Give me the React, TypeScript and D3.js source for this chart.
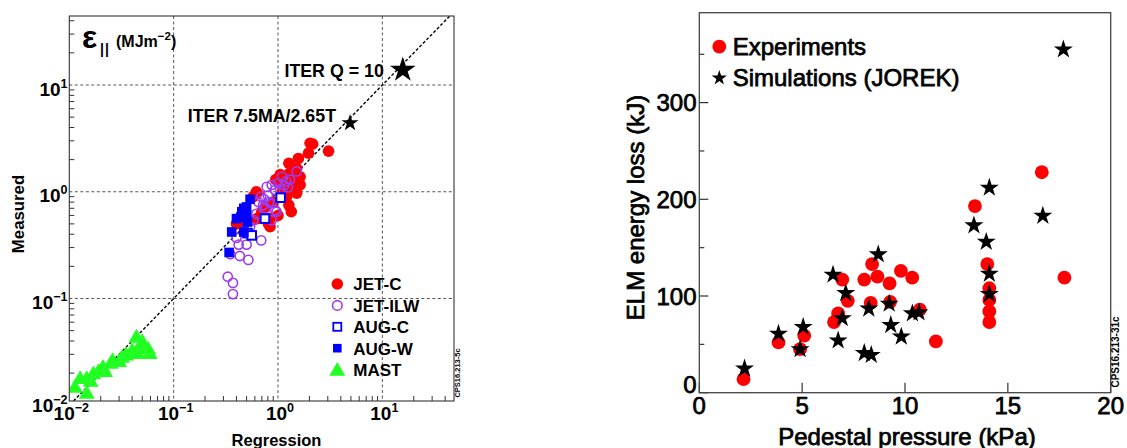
import React from 'react';
import * as d3 from 'd3';

const FONT = '"Liberation Sans", Arial, Helvetica, sans-serif';

// ---------- Left panel data (Regression, Measured) ----------
const jetC: [number, number][] = [
  [2.03, 2.85], [2.15, 2.8], [1.96, 2.3], [3.05, 2.4], [1.57, 2.05], [1.27, 1.85],
  [1.51, 1.66], [1.29, 1.49], [1.63, 1.38], [1.4, 1.28], [1.63, 1.16], [1.29, 1.08],
  [1.51, 0.97], [1.21, 0.9], [1.27, 0.75], [1.34, 0.65], [1.13, 1.2], [0.95, 1.3],
  [1.05, 1.45], [0.62, 1.0], [0.58, 0.9], [0.81, 0.5], [0.84, 0.56], [0.63, 0.56],
  [0.4, 0.5], [0.42, 0.53], [0.75, 0.72], [1.1, 1.0], [0.9, 0.8], [1.0, 0.6],
  [0.7, 0.65], [0.63, 0.97], [0.43, 0.52], [0.84, 0.47],
];
const jetILW: [number, number][] = [
  [1.51, 1.55], [1.09, 1.38], [1.2, 1.25], [1.15, 1.15], [1.05, 1.05], [1.25, 1.1],
  [0.87, 1.16], [0.78, 1.11], [0.94, 1.04], [0.69, 0.9], [0.74, 0.85], [0.8, 0.92],
  [0.82, 0.8], [0.72, 0.75], [0.86, 0.78], [0.94, 0.67], [0.87, 0.54], [0.69, 0.35],
  [0.58, 0.54], [0.54, 0.47], [0.48, 0.43], [0.4, 0.37], [0.42, 0.32], [0.5, 0.32],
  [0.35, 0.26], [0.43, 0.25], [0.52, 0.23], [0.33, 0.16], [0.37, 0.14], [0.37, 0.11],
  [0.65, 0.8], [0.76, 0.7], [1.3, 1.3], [1.0, 1.2], [0.62, 0.62], [0.97, 0.65],
];
const augC: [number, number][] = [[1.06, 0.88], [0.75, 0.56], [0.51, 0.41], [0.56, 0.39]];
const augW: [number, number][] = [
  [0.54, 0.85], [0.47, 0.7], [0.4, 0.56], [0.5, 0.61], [0.51, 0.52], [0.45, 0.65],
  [0.36, 0.42], [0.47, 0.42], [0.34, 0.27], [0.5, 0.72], [0.44, 0.58],
];
const mast: [number, number][] = [
  [0.044, 0.044], [0.057, 0.034], [0.048, 0.036], [0.04, 0.033], [0.035, 0.03],
  [0.032, 0.0285], [0.026, 0.0265], [0.025, 0.025], [0.021, 0.023], [0.019, 0.021],
  [0.017, 0.02], [0.0147, 0.018], [0.0127, 0.018], [0.0113, 0.0149], [0.0147, 0.0131],
  [0.059, 0.031], [0.05, 0.04], [0.03, 0.026], [0.016, 0.017], [0.045, 0.031], [0.022, 0.021],
];
const iterPoints = [
  { name: 'ITER Q = 10', x: 15.7, y: 14.3, big: true },
  { name: 'ITER 7.5MA/2.65T', x: 4.9, y: 4.5, big: false },
];
const leftDecades = [-2, -1, 0, 1];
const leftGrid = [0.1, 1, 10];
const legendLeft = ['JET-C', 'JET-ILW', 'AUG-C', 'AUG-W', 'MAST'];

// ---------- Right panel data (Pedestal pressure kPa, ELM energy loss kJ) ----------
const experiments: [number, number][] = [
  [2.15, 14], [3.85, 52], [4.9, 45], [5.1, 59], [6.55, 73], [6.75, 82], [6.95, 117],
  [7.22, 95], [8.02, 117], [8.4, 133], [8.33, 93], [8.66, 120], [9.25, 113], [9.28, 94],
  [9.8, 126], [10.35, 119], [10.72, 86], [11.5, 53], [13.4, 193], [14.0, 133],
  [14.1, 108], [14.1, 96], [14.1, 84], [14.1, 73], [16.65, 228], [17.75, 119],
];
const simulations: [number, number][] = [
  [2.2, 26], [3.85, 62], [4.9, 46], [5.05, 69], [6.5, 123], [6.75, 55], [7.12, 104],
  [6.95, 78], [8.02, 42], [8.36, 40], [8.24, 88], [8.7, 144], [9.23, 93], [9.31, 71],
  [9.82, 59], [10.36, 83], [10.68, 84], [13.35, 174], [13.95, 157], [14.1, 213],
  [14.1, 124], [14.1, 103], [16.7, 184], [17.7, 356],
];
const rightXTicks = [0, 5, 10, 15, 20];
const rightYMajor = [0, 100, 200, 300];
const rightYMinor = [50, 150, 250, 350];

const RED = '#ff0000';
const PURPLE = '#9b3cf2';
const BLUE = '#0000ff';
const GREEN = '#22ff22';

const txtL = { fontFamily: FONT, fill: '#000', fontWeight: 'bold' } as const;
const txtR = { fontFamily: FONT, fill: '#000', stroke: '#000', strokeWidth: 0.75 } as const;

const starPath = (r: number) => d3.symbol(d3.symbolStar, (r * r) / 0.8908130915292852)()!;
const triPath = d3.symbol(d3.symbolTriangle, 110)()!;

function Sup({ base, exp, x, y, anchor, size = 19 }: { base: string; exp: string; x: number; y: number; anchor: string; size?: number }) {
  return (
    <text x={x} y={y} textAnchor={anchor as any} fontSize={size} {...txtL}>
      {base}
      <tspan dy={-8} fontSize={size * 0.66}>{exp}</tspan>
    </text>
  );
}

export default function App() {
  // Left scales
  const xL = d3.scaleLog().domain([0.01, 48.6]).range([69.3, 454]);
  const yL = d3.scaleLog().domain([0.01096, 44.3]).range([401, 16]);
  const L = { l: 69.3, r: 454, t: 16, b: 401 };
  const minorX: number[] = [];
  const minorY: number[] = [];
  leftDecades.forEach((d) => {
    for (let m = 2; m <= 9; m++) {
      const v = m * Math.pow(10, d);
      if (v <= xL.domain()[1]) minorX.push(v);
      if (v >= yL.domain()[0] && v <= yL.domain()[1]) minorY.push(v);
    }
  });
  const expStr = (d: number) => (d < 0 ? '\u2212' + Math.abs(d) : String(d));

  // Right scales
  const xR = d3.scaleLinear().domain([0, 20]).range([699.3, 1110.7]);
  const yR = d3.scaleLinear().domain([0, 393]).range([392.7, 12.7]);
  const R = { l: 699.3, r: 1110.7, t: 12.7, b: 392.7 };

  const diagLo = Math.max(xL.domain()[0], yL.domain()[0]);
  const diagHi = Math.min(xL.domain()[1], yL.domain()[1]);

  return (
    <svg width={1127} height={448} style={{ position: 'absolute', left: 0, top: 0, background: '#fff' }}>
      <rect x={0} y={0} width={1127} height={448} fill="#fff" />
      {/* ================= LEFT PANEL ================= */}
      <defs>
        <clipPath id="clipL">
          <rect x={L.l} y={L.t} width={L.r - L.l} height={L.b - L.t} />
        </clipPath>
      </defs>
      {leftGrid.map((v) => (
        <g key={'g' + v}>
          <line x1={xL(v)} x2={xL(v)} y1={L.t} y2={L.b} stroke="#555" strokeWidth={1} strokeDasharray="3,2.5" />
          <line x1={L.l} x2={L.r} y1={yL(v)} y2={yL(v)} stroke="#555" strokeWidth={1} strokeDasharray="3,2.5" />
        </g>
      ))}
      {minorX.map((v) => (
        <line key={'mx' + v} x1={xL(v)} x2={xL(v)} y1={L.b} y2={L.b - 5} stroke="#333" strokeWidth={1} />
      ))}
      {minorY.map((v) => (
        <line key={'my' + v} x1={L.l} x2={L.l + 5} y1={yL(v)} y2={yL(v)} stroke="#333" strokeWidth={1} />
      ))}
      <line
        x1={xL(diagLo)} y1={yL(diagLo)} x2={xL(diagHi)} y2={yL(diagHi)}
        stroke="#000" strokeWidth={1.4} strokeDasharray="3,2" clipPath="url(#clipL)"
      />
      <g clipPath="url(#clipL)">
        {jetC.map((d, i) => (
          <circle key={'jc' + i} cx={xL(d[0])} cy={yL(d[1])} r={5.8} fill={RED} />
        ))}
        {jetILW.map((d, i) => (
          <circle key={'ji' + i} cx={xL(d[0])} cy={yL(d[1])} r={4.6} fill="none" stroke={PURPLE} strokeWidth={1.6} />
        ))}
        {augC.map((d, i) => (
          <rect key={'ac' + i} x={xL(d[0]) - 4.3} y={yL(d[1]) - 4.3} width={8.6} height={8.6} fill="#fff" stroke={BLUE} strokeWidth={2} />
        ))}
        {augW.map((d, i) => (
          <rect key={'aw' + i} x={xL(d[0]) - 4.8} y={yL(d[1]) - 4.8} width={9.6} height={9.6} fill={BLUE} />
        ))}
        {mast.map((d, i) => (
          <path key={'ma' + i} d={triPath} transform={`translate(${xL(d[0])},${yL(d[1]) + 1.5})`} fill={GREEN} />
        ))}
      </g>
      {iterPoints.map((p) => (
        <g key={p.name}>
          <path d={starPath(p.big ? 13.5 : 9)} transform={`translate(${xL(p.x)},${yL(p.y) + (p.big ? 1.5 : 1)})`} fill="#000" />
          <text x={xL(p.x) - (p.big ? 19 : 14)} y={yL(p.y) + (p.big ? 9 : 0)} textAnchor="end" fontSize={17.8} {...txtL}>
            {p.name}
          </text>
        </g>
      ))}
      <rect x={L.l} y={L.t} width={L.r - L.l} height={L.b - L.t} fill="none" stroke="#333" strokeWidth={1.1} />
      {leftDecades.map((d) => {
        const v = Math.pow(10, d);
        return (
          <g key={'tl' + d}>
            <Sup base="10" exp={expStr(d)} x={xL(v) + 2} y={420} anchor="middle" />
            <Sup base="10" exp={expStr(d)} x={67.5} y={Math.min(yL(v), L.b) + 10.5} anchor="end" />
          </g>
        );
      })}
      {/* title */}
      <text x={82} y={48} fontSize={32} {...txtL}>ε</text>
      <text x={100} y={54} fontSize={14} letterSpacing={1.2} {...txtL}>||</text>
      <text x={116} y={47} fontSize={16} {...txtL}>
        (MJm<tspan dy={-7.5} fontSize={11.5}>{'\u22122'}</tspan><tspan dy={7.5}>)</tspan>
      </text>
      {/* axis titles */}
      <text x={276.5} y={446} textAnchor="middle" fontSize={16.5} {...txtL}>Regression</text>
      <text transform="translate(24,214) rotate(-90)" textAnchor="middle" fontSize={16.8} {...txtL}>Measured</text>
      {/* legend */}
      {legendLeft.map((name, i) => {
        const cy = 284 + i * 21.4;
        const cx = 337.3;
        let marker: React.ReactNode = null;
        if (name === 'JET-C') marker = <circle cx={cx} cy={cy} r={5.8} fill={RED} />;
        if (name === 'JET-ILW') marker = <circle cx={cx} cy={cy} r={4.8} fill="none" stroke={PURPLE} strokeWidth={1.6} />;
        if (name === 'AUG-C') marker = <rect x={cx - 4} y={cy - 4} width={8} height={8} fill="#fff" stroke={BLUE} strokeWidth={1.8} />;
        if (name === 'AUG-W') marker = <rect x={cx - 4.3} y={cy - 4.3} width={8.6} height={8.6} fill={BLUE} />;
        if (name === 'MAST') marker = <path d={triPath} transform={`translate(${cx},${cy + 1.5})`} fill={GREEN} />;
        return (
          <g key={name}>
            {marker}
            <text x={353.3} y={cy + 6.3} fontSize={17} {...txtL}>{name}</text>
          </g>
        );
      })}
      <text transform="translate(460,373) rotate(-90)" textAnchor="middle" fontSize={7.5} fontWeight="bold" fontFamily={FONT}>
        CPS16.213-5c
      </text>

      {/* ================= RIGHT PANEL ================= */}
      {rightYMajor.map((v) => (
        <g key={'ry' + v}>
          <line x1={R.l} x2={R.l + 9} y1={yR(v)} y2={yR(v)} stroke="#333" strokeWidth={1.2} />
          <text x={696.5} y={v === 0 ? yR(v) + 0.5 : yR(v) + 8.5} textAnchor="end" fontSize={24} {...txtR}>{v}</text>
        </g>
      ))}
      {rightYMinor.map((v) => (
        <line key={'rym' + v} x1={R.l} x2={R.l + 5} y1={yR(v)} y2={yR(v)} stroke="#333" strokeWidth={1.2} />
      ))}
      {rightXTicks.map((v) => (
        <g key={'rx' + v}>
          <line x1={xR(v)} x2={xR(v)} y1={R.b} y2={R.b - 10} stroke="#333" strokeWidth={1.2} />
          <text x={xR(v)} y={414} textAnchor="middle" fontSize={24} {...txtR}>{v}</text>
        </g>
      ))}
      {experiments.map((d, i) => (
        <circle key={'ex' + i} cx={xR(d[0])} cy={yR(d[1])} r={6.9} fill={RED} />
      ))}
      {simulations.map((d, i) => (
        <path key={'si' + i} d={starPath(10)} transform={`translate(${xR(d[0])},${yR(d[1]) + 1})`} fill="#000" />
      ))}
      <rect x={R.l} y={R.t} width={R.r - R.l} height={R.b - R.t} fill="none" stroke="#444" strokeWidth={1.3} />
      <circle cx={719.3} cy={46.7} r={6.9} fill={RED} />
      <text x={732.7} y={55.2} fontSize={24} {...txtR}>Experiments</text>
      <path d={starPath(8)} transform="translate(719.3,78)" fill="#000" />
      <text x={732.7} y={85.6} fontSize={24} {...txtR}>Simulations (JOREK)</text>
      <text x={907} y={445} textAnchor="middle" fontSize={24} {...txtR}>Pedestal pressure (kPa)</text>
      <text transform="translate(644,207.5) rotate(-90)" textAnchor="middle" fontSize={24} {...txtR}>ELM energy loss (kJ)</text>
      <text transform="translate(1119,352) rotate(-90)" textAnchor="middle" fontSize={10} fontWeight="bold" fontFamily={FONT}>
        CPS16.213-31c
      </text>
    </svg>
  );
}
